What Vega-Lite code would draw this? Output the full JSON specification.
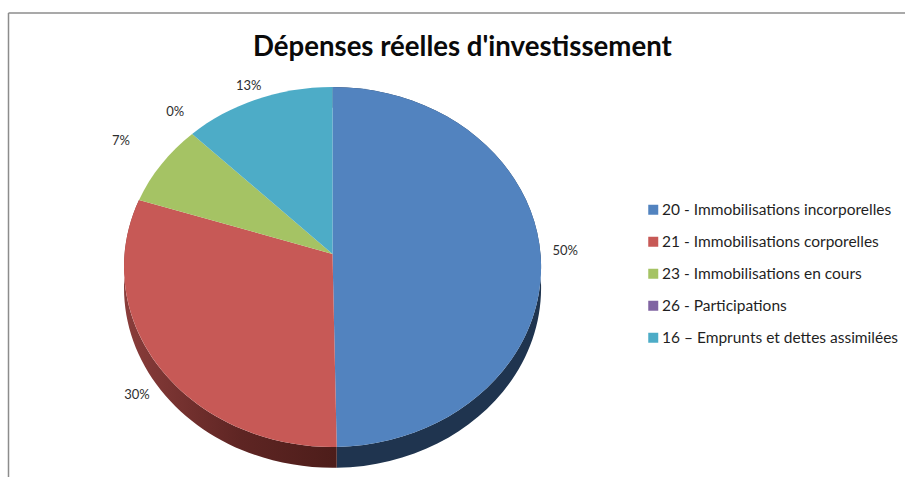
{
  "$schema": "https://vega.github.io/schema/vega-lite/v6.json",
  "width": 905,
  "height": 477,
  "padding": 0,
  "autosize": {"type": "none"},
  "background": "white",
  "config": {"view": {"stroke": null}},
  "title": {
    "text": "Dépenses réelles d'investissement",
    "anchor": "start",
    "frame": "group",
    "dx": 253,
    "dy": 88,
    "baseline": "alphabetic",
    "font": "Lato",
    "fontSize": 27.6,
    "fontWeight": "bold",
    "color": "#0a0a0a"
  },
  "data": {
    "values": [
      {"rang": 1, "poste": "20 - Immobilisations incorporelles", "part": 49.7},
      {"rang": 2, "poste": "21 - Immobilisations corporelles", "part": 30.3},
      {"rang": 3, "poste": "23 - Immobilisations en cours", "part": 7.45},
      {"rang": 4, "poste": "26 - Participations", "part": 0},
      {"rang": 5, "poste": "16 – Emprunts et dettes assimilées", "part": 12.55}
    ]
  },
  "transform": [
    {"stack": "part", "sort": [{"field": "rang", "order": "ascending"}], "as": ["debut", "fin"]},
    {"calculate": "2 * PI * datum.debut / 100", "as": "t0"},
    {"calculate": "2 * PI * datum.fin / 100", "as": "t1"},
    {"calculate": "(datum.t0 + datum.t1) / 2", "as": "tm"},
    {"calculate": "format(datum.part, '.0f') + '%'", "as": "etiquette"},
    {"calculate": "round(99740 * sin(datum.t0) / (1 + 0.0722 * cos(datum.t0))) / 100000", "as": "x0"},
    {"calculate": "round(99740 * sin(datum.t1) / (1 + 0.0722 * cos(datum.t1))) / 100000", "as": "x1"},
    {"calculate": "round(100000 * (-0.8633 * cos(datum.t0) - 0.0623) / (1 + 0.0722 * cos(datum.t0))) / 100000", "as": "y0"},
    {"calculate": "round(100000 * (-0.8633 * cos(datum.t1) - 0.0623) / (1 + 0.0722 * cos(datum.t1))) / 100000", "as": "y1"},
    {"calculate": "0.9974 * sin(datum.tm) / (1 + 0.0722 * cos(datum.tm))", "as": "xm"},
    {"calculate": "(-0.8633 * cos(datum.tm) - 0.0623) / (1 + 0.0722 * cos(datum.tm))", "as": "ym"},
    {"calculate": "233.5 * datum.xm + (datum.rang === 3 ? -20 : 0)", "as": "lx"},
    {"calculate": "-233.5 * datum.ym + (datum.ym > 0.1 ? -18 : 0) + (datum.rang === 3 ? 11 : 0) + (datum.rang === 4 ? 6 : 0) + (datum.rang === 5 ? -7 : 0)", "as": "ly"},
    {"calculate": "datum.part > 50 ? 1 : 0", "as": "grand"},
    {"calculate": "'M0 -0.0623 L' + datum.x0 + ' ' + datum.y0 + ' A1 0.8633 0 ' + datum.grand + ' 1 ' + datum.x1 + ' ' + datum.y1 + ' Z'", "as": "secteur"},
    {"calculate": "'M' + datum.x0 + ' ' + datum.y0 + ' A1 0.8633 0 ' + datum.grand + ' 1 ' + datum.x1 + ' ' + datum.y1 + ' L' + datum.x1 + ' ' + (datum.y1 + 0.1) + ' A1 0.8633 0 ' + datum.grand + ' 0 ' + datum.x0 + ' ' + (datum.y0 + 0.1) + ' Z'", "as": "tranche"}
  ],
  "layer": [
    {
      "transform": [{"filter": "datum.rang === 1"}],
      "mark": {"type": "point", "filled": true, "opacity": 1, "fill": "#1f344f", "size": 173889},
      "encoding": {
        "x": {"datum": 0, "type": "quantitative", "scale": {"domain": [-332.5, 572.5]}, "axis": null},
        "y": {"datum": 0, "type": "quantitative", "scale": {"domain": [-210, 267]}, "axis": null},
        "shape": {"field": "tranche", "type": "nominal", "scale": null}
      }
    },
    {
      "transform": [{"filter": "datum.rang === 2"}],
      "mark": {
        "type": "point",
        "filled": true,
        "opacity": 1,
        "size": 173889,
        "fill": {
          "gradient": "linear",
          "x1": 0,
          "x2": 1,
          "y1": 0,
          "y2": 0,
          "stops": [
            {"offset": 0, "color": "#8a3d3b"},
            {"offset": 0.55, "color": "#5e2523"},
            {"offset": 1, "color": "#4d1d1a"}
          ]
        }
      },
      "encoding": {
        "x": {"datum": 0, "type": "quantitative", "scale": {"domain": [-332.5, 572.5]}, "axis": null},
        "y": {"datum": 0, "type": "quantitative", "scale": {"domain": [-210, 267]}, "axis": null},
        "shape": {"field": "tranche", "type": "nominal", "scale": null}
      }
    },
    {
      "mark": {"type": "point", "filled": true, "opacity": 1, "size": 173889},
      "encoding": {
        "x": {"datum": 0, "type": "quantitative", "scale": {"domain": [-332.5, 572.5]}, "axis": null},
        "y": {"datum": 0, "type": "quantitative", "scale": {"domain": [-210, 267]}, "axis": null},
        "shape": {"field": "secteur", "type": "nominal", "scale": null},
        "color": {
          "field": "poste",
          "type": "nominal",
          "scale": {
            "domain": [
              "20 - Immobilisations incorporelles",
              "21 - Immobilisations corporelles",
              "23 - Immobilisations en cours",
              "26 - Participations",
              "16 – Emprunts et dettes assimilées"
            ],
            "range": ["#5283bf", "#c75956", "#a5c364", "#8064a2", "#4dacc7"]
          },
          "legend": {
            "title": null,
            "orient": "none",
            "legendX": 645.5,
            "legendY": 202,
            "symbolType": "square",
            "symbolSize": 100,
            "symbolStrokeWidth": 0,
            "rowPadding": 15,
            "labelFont": "Lato",
            "labelFontSize": 15.5,
            "labelColor": "#1f1f1f",
            "labelLimit": 300,
            "labelOffset": 1
          }
        }
      }
    },
    {
      "mark": {"type": "text", "font": "Lato", "fontSize": 13, "color": "#2e2e2e"},
      "encoding": {
        "x": {"field": "lx", "type": "quantitative", "scale": {"domain": [-332.5, 572.5]}, "axis": null},
        "y": {"field": "ly", "type": "quantitative", "scale": {"domain": [-210, 267]}, "axis": null},
        "text": {"field": "etiquette", "type": "nominal"}
      }
    },
    {
      "transform": [{"filter": "datum.rang === 1"}],
      "mark": {"type": "rule", "color": "#8c8c8c", "strokeWidth": 1.5},
      "encoding": {
        "x": {"datum": -324, "type": "quantitative", "scale": {"domain": [-332.5, 572.5]}, "axis": null},
        "y": {"datum": 254, "type": "quantitative", "scale": {"domain": [-210, 267]}, "axis": null},
        "y2": {"datum": -210}
      }
    },
    {
      "transform": [{"filter": "datum.rang === 1"}],
      "mark": {"type": "rule", "color": "#8c8c8c", "strokeWidth": 1.5},
      "encoding": {
        "x": {"datum": -324, "type": "quantitative", "scale": {"domain": [-332.5, 572.5]}, "axis": null},
        "x2": {"datum": 572.5},
        "y": {"datum": 254, "type": "quantitative", "scale": {"domain": [-210, 267]}, "axis": null}
      }
    }
  ]
}
